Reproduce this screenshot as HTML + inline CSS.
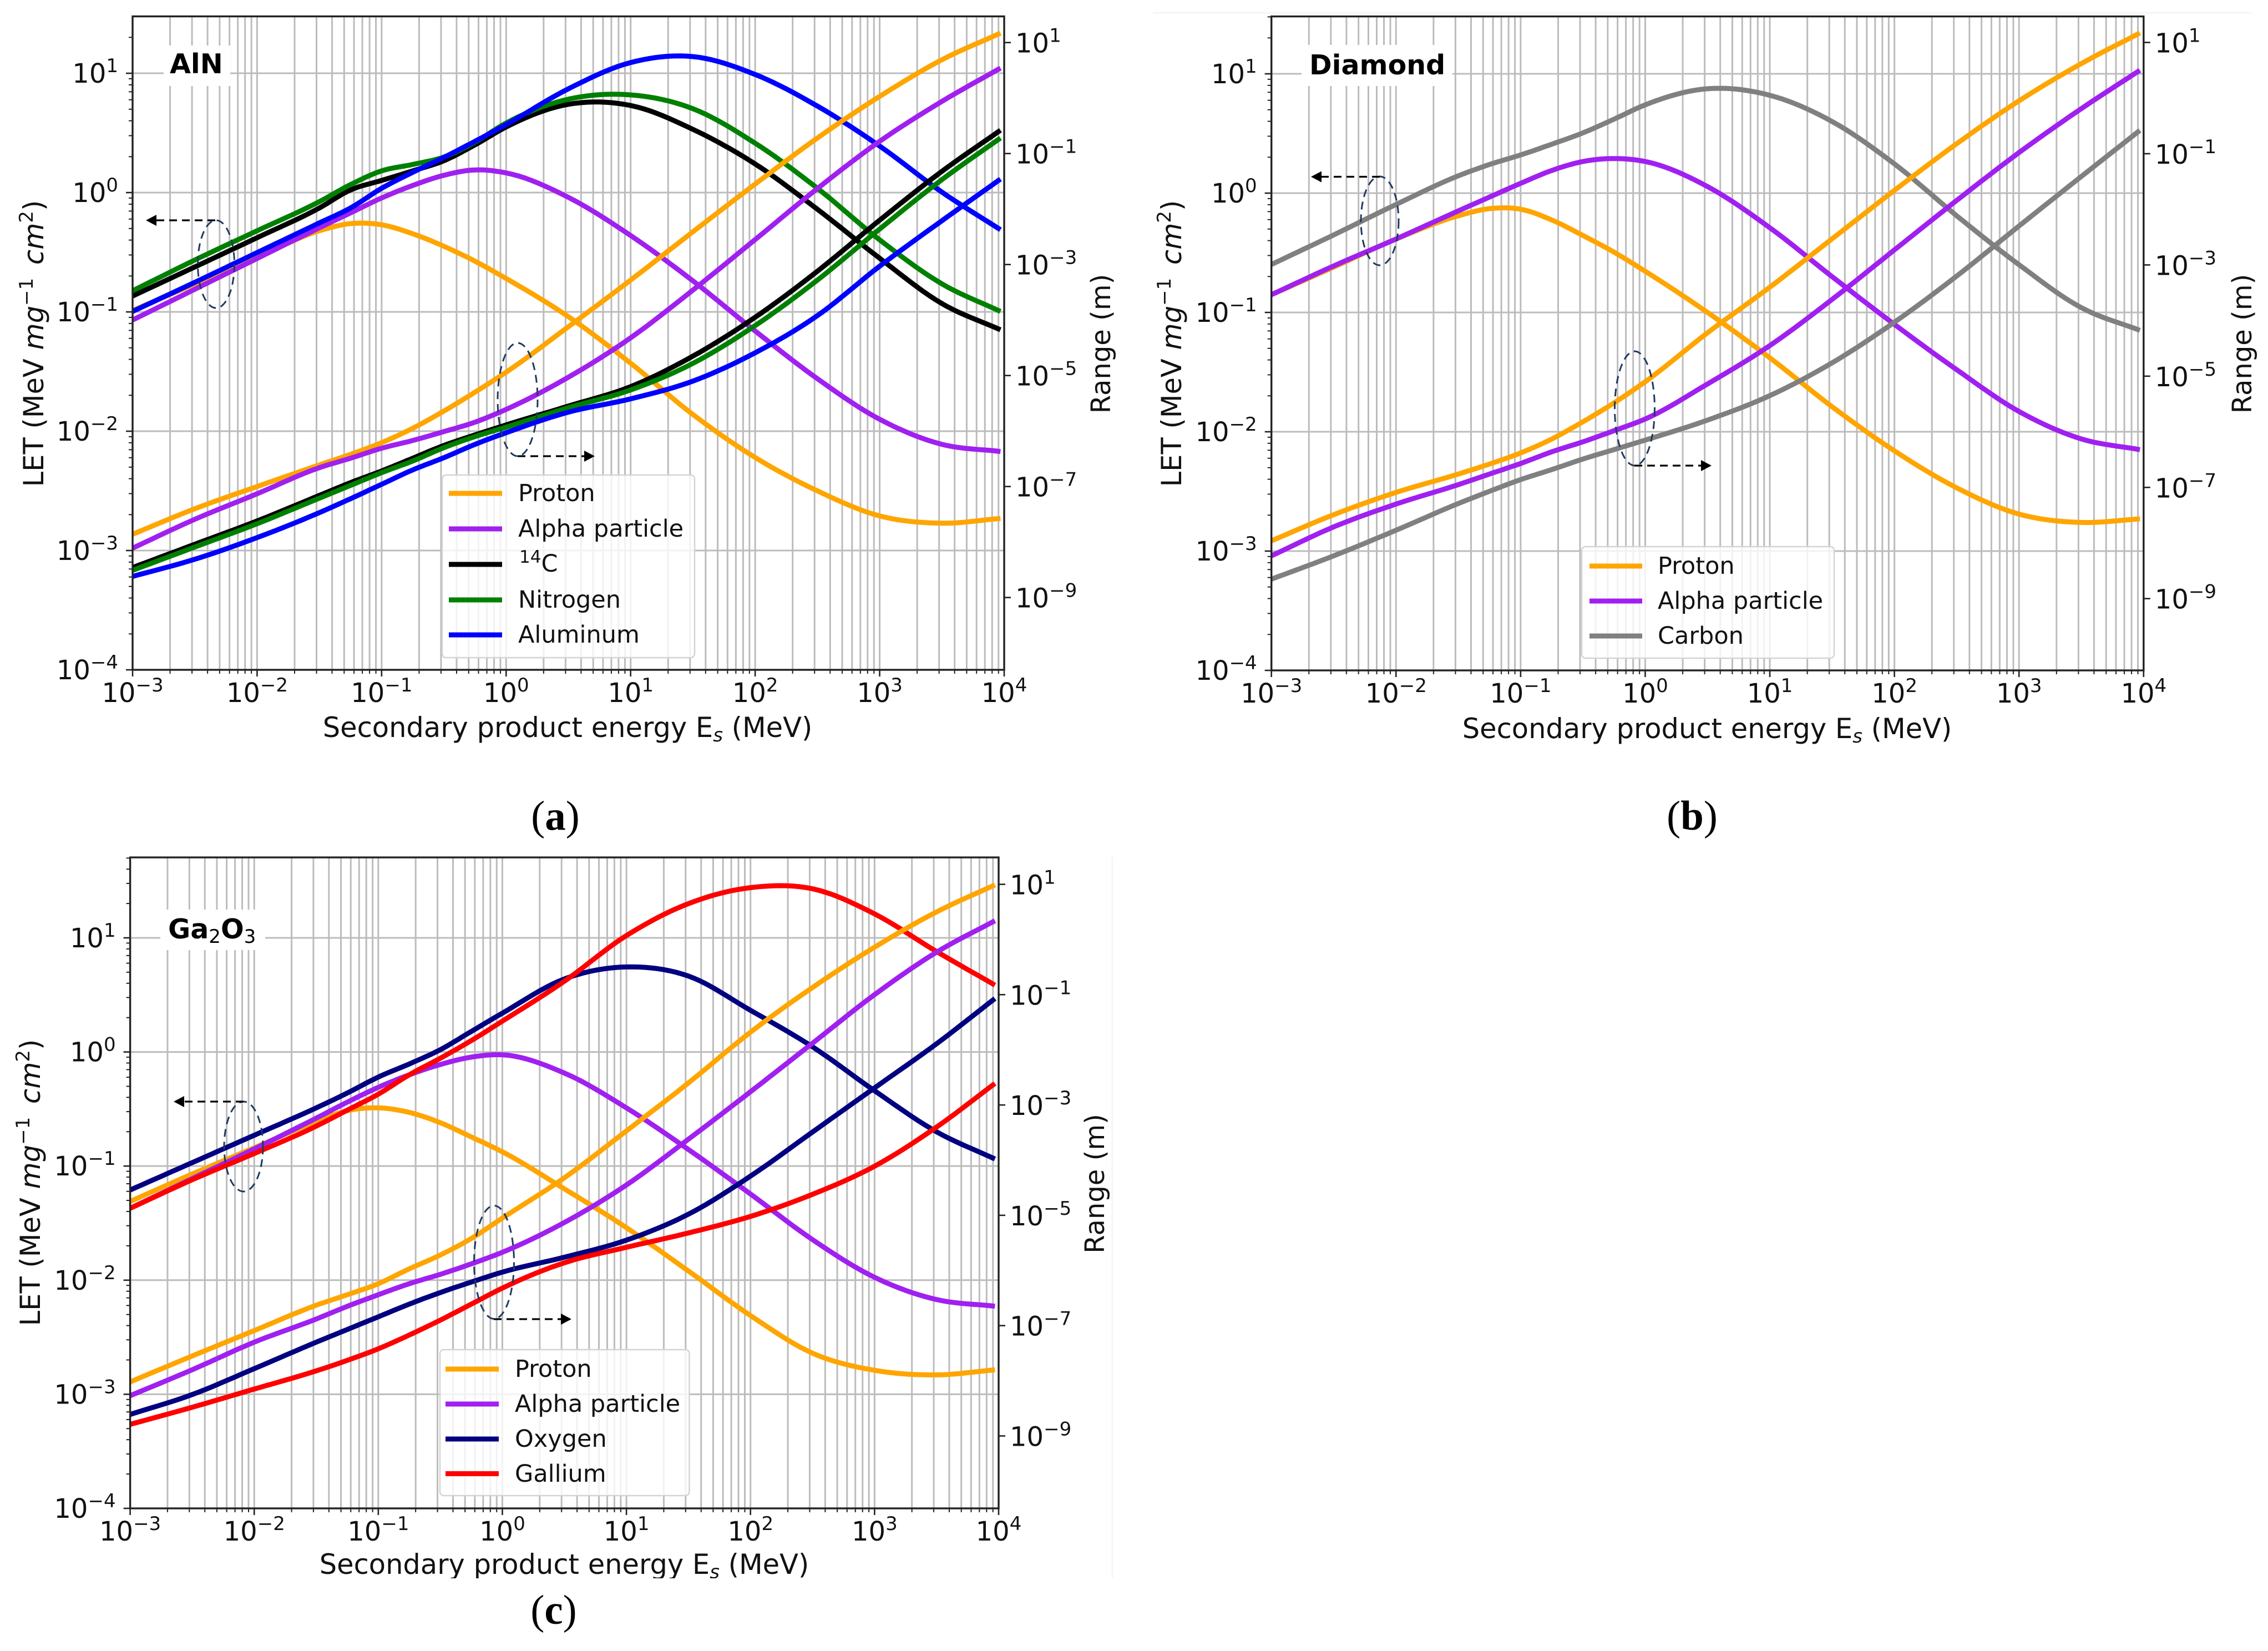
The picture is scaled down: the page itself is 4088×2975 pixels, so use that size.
<!DOCTYPE html>
<html lang="en">
<head>
<meta charset="utf-8">
<title>LET and range of secondary products in AlN, Diamond and Ga2O3</title>
<style>
html,body{margin:0;padding:0;background:#fff;}
svg{display:block;font-family:"DejaVu Sans","Liberation Sans",sans-serif;fill:#111;}
.tick{font-size:48px;}
.title{font-size:49.5px;}
.rtitle{font-size:48px;}
.leg{font-size:43px;}
.mat{font-size:49px;font-weight:bold;fill:#000;}
.cap{font-family:"Liberation Serif",serif;font-size:75px;fill:#000;}
.cap-b{font-weight:bold;}
.ell{fill:none;stroke:#1f3a5f;stroke-width:3;stroke-dasharray:14 9;}
.arr{stroke:#000;stroke-width:3.2;stroke-dasharray:14 9;fill:none;}
</style>
</head>
<body>
<svg id="figure" xmlns="http://www.w3.org/2000/svg" width="4088" height="2975" viewBox="0 0 4088 2975">
  <rect x="0" y="0" width="4088" height="2975" fill="#fff"/>
  <line x1="2078" y1="23" x2="4060" y2="23" stroke="#f6f6f6" stroke-width="3"/>
  <line x1="2005" y1="1543" x2="2005" y2="2844" stroke="#f6f6f6" stroke-width="3"/>

  <!-- PANEL A -->
  <g id="panel-a">
    <g id="grid-a"></g>
    <rect x="295" y="82" width="120" height="73" fill="#fff"/>
    <g id="curves-a"></g>
    <g id="axes-a"></g>
    <text class="mat" x="306" y="132">AlN</text>
    <ellipse class="ell" cx="389.5" cy="476" rx="33" ry="79"/>
    <line class="arr" x1="388" y1="397" x2="280" y2="397"/>
    <polygon points="263,397 282,387 282,407" fill="#000"/>
    <ellipse class="ell" cx="933" cy="720" rx="36" ry="102"/>
    <line class="arr" x1="933" y1="822" x2="1055" y2="822"/>
    <polygon points="1072,822 1053,812 1053,832" fill="#000"/>
    <text class="title" x="1023" y="1328" text-anchor="middle">Secondary product energy E<tspan font-style="italic" font-size="34" dy="8">s</tspan><tspan dy="-8"> (MeV)</tspan></text>
    <text class="title" transform="translate(78 619) rotate(-90)" text-anchor="middle">LET (MeV <tspan font-style="italic">mg</tspan><tspan font-size="34" dy="-19">−1</tspan><tspan font-style="italic" dy="19" dx="8"> cm</tspan><tspan font-size="34" dy="-19">2</tspan><tspan dy="19">)</tspan></text>
    <text class="rtitle" transform="translate(2001 619.5) rotate(-90)" text-anchor="middle">Range (m)</text>
    <g>
      <rect x="797" y="856" width="455" height="329" rx="7" fill="#fff" fill-opacity=".8" stroke="#d4d4d4" stroke-width="2.5"/>
      <line x1="809" x2="905" y1="889" y2="889" stroke="#ffa500" stroke-width="9"/>
      <text class="leg" x="934" y="903">Proton</text>
      <line x1="809" x2="905" y1="953" y2="953" stroke="#a020f0" stroke-width="9"/>
      <text class="leg" x="934" y="967">Alpha particle</text>
      <line x1="809" x2="905" y1="1017" y2="1017" stroke="#000" stroke-width="9"/>
      <text class="leg" x="936" y="1030"><tspan font-size="31" dy="-16">14</tspan><tspan dy="16">C</tspan></text>
      <line x1="809" x2="905" y1="1081" y2="1081" stroke="#008000" stroke-width="9"/>
      <text class="leg" x="934" y="1095">Nitrogen</text>
      <line x1="809" x2="905" y1="1144" y2="1144" stroke="#0000ff" stroke-width="9"/>
      <text class="leg" x="934" y="1158">Aluminum</text>
    </g>
    <text class="cap" x="1001" y="1495" text-anchor="middle">(<tspan class="cap-b">a</tspan>)</text>
  </g>

  <!-- PANEL B -->
  <g id="panel-b">
    <g id="grid-b"></g>
    <rect x="2346" y="81" width="272" height="74" fill="#fff"/>
    <g id="curves-b"></g>
    <g id="axes-b"></g>
    <text class="mat" x="2360" y="134">Diamond</text>
    <ellipse class="ell" cx="2487" cy="398" rx="34" ry="80"/>
    <line class="arr" x1="2487" y1="318.5" x2="2380" y2="318.5"/>
    <polygon points="2363,318.5 2382,308.5 2382,328.5" fill="#000"/>
    <ellipse class="ell" cx="2946.5" cy="736" rx="36" ry="103"/>
    <line class="arr" x1="2946" y1="839" x2="3068" y2="839"/>
    <polygon points="3085,839 3066,829 3066,849" fill="#000"/>
    <text class="title" x="3077" y="1330" text-anchor="middle">Secondary product energy E<tspan font-style="italic" font-size="34" dy="8">s</tspan><tspan dy="-8"> (MeV)</tspan></text>
    <text class="title" transform="translate(2129 619) rotate(-90)" text-anchor="middle">LET (MeV <tspan font-style="italic">mg</tspan><tspan font-size="34" dy="-19">−1</tspan><tspan font-style="italic" dy="19" dx="8"> cm</tspan><tspan font-size="34" dy="-19">2</tspan><tspan dy="19">)</tspan></text>
    <text class="rtitle" transform="translate(4058 619.5) rotate(-90)" text-anchor="middle">Range (m)</text>
    <g>
      <rect x="2851" y="985" width="455" height="201" rx="7" fill="#fff" fill-opacity=".8" stroke="#d4d4d4" stroke-width="2.5"/>
      <line x1="2865" x2="2960" y1="1020" y2="1020" stroke="#ffa500" stroke-width="9"/>
      <text class="leg" x="2988" y="1034">Proton</text>
      <line x1="2865" x2="2960" y1="1083" y2="1083" stroke="#a020f0" stroke-width="9"/>
      <text class="leg" x="2988" y="1097">Alpha particle</text>
      <line x1="2865" x2="2960" y1="1146" y2="1146" stroke="#808080" stroke-width="9"/>
      <text class="leg" x="2988" y="1160">Carbon</text>
    </g>
    <text class="cap" x="3050" y="1495" text-anchor="middle">(<tspan class="cap-b">b</tspan>)</text>
  </g>

  <!-- PANEL C -->
  <g id="panel-c">
    <g id="grid-c"></g>
    <rect x="289" y="1639" width="189" height="73" fill="#fff"/>
    <g id="curves-c"></g>
    <g id="axes-c"></g>
    <text class="mat" x="303" y="1691">Ga<tspan font-size="34" font-weight="normal" dy="8">2</tspan><tspan dy="-8">O</tspan><tspan font-size="34" font-weight="normal" dy="8">3</tspan></text>
    <ellipse class="ell" cx="439" cy="2066" rx="35" ry="81"/>
    <line class="arr" x1="439" y1="1985" x2="330" y2="1985"/>
    <polygon points="313,1985 332,1975 332,1995" fill="#000"/>
    <ellipse class="ell" cx="890.5" cy="2274.5" rx="36" ry="102"/>
    <line class="arr" x1="890" y1="2377" x2="1013" y2="2377"/>
    <polygon points="1030,2377 1011,2367 1011,2387" fill="#000"/>
    <text class="title" x="1017" y="2836" text-anchor="middle">Secondary product energy E<tspan font-style="italic" font-size="34" dy="8">s</tspan><tspan dy="-8"> (MeV)</tspan></text>
    <rect x="500" y="2844" width="1100" height="26" fill="#fff"/>
    <text class="title" transform="translate(72 2131) rotate(-90)" text-anchor="middle">LET (MeV <tspan font-style="italic">mg</tspan><tspan font-size="34" dy="-19">−1</tspan><tspan font-style="italic" dy="19" dx="8"> cm</tspan><tspan font-size="34" dy="-19">2</tspan><tspan dy="19">)</tspan></text>
    <text class="rtitle" transform="translate(1990 2133) rotate(-90)" text-anchor="middle">Range (m)</text>
    <g>
      <rect x="793" y="2432" width="449.5" height="263" rx="7" fill="#fff" fill-opacity=".8" stroke="#d4d4d4" stroke-width="2.5"/>
      <line x1="803" x2="899" y1="2467" y2="2467" stroke="#ffa500" stroke-width="9"/>
      <text class="leg" x="928" y="2481">Proton</text>
      <line x1="803" x2="899" y1="2530" y2="2530" stroke="#a020f0" stroke-width="9"/>
      <text class="leg" x="928" y="2544">Alpha particle</text>
      <line x1="803" x2="899" y1="2593" y2="2593" stroke="#000080" stroke-width="9"/>
      <text class="leg" x="928" y="2607">Oxygen</text>
      <line x1="803" x2="899" y1="2655.5" y2="2655.5" stroke="#ff0000" stroke-width="9"/>
      <text class="leg" x="928" y="2670">Gallium</text>
    </g>
    <text class="cap" x="998" y="2926" text-anchor="middle">(<tspan class="cap-b">c</tspan>)</text>
  </g>
</svg>

<script>
// Shared x samples: log10 of secondary product energy (MeV)
const energyLog = [-3,-2.5,-2,-1.5,-1.25,-1,-0.75,-0.5,-0.25,0,0.5,1,1.5,2,2.5,3,3.5,3.97];

// Tick labels (decade exponents)
const xTickExps = [-3,-2,-1,0,1,2,3,4];
const letTickExps = [1,0,-1,-2,-3,-4];
const rangeTickExps = [1,-1,-3,-5,-7,-9];
const minorSubs = [2,3,4,5,6,7,8,9];

// Panel (a) AlN: log10 LET
const alnProtonLet = [-0.988,-0.765,-0.543,-0.32,-0.26,-0.27,-0.345,-0.45,-0.575,-0.72,-1.04,-1.43,-1.86,-2.22,-2.5,-2.71,-2.771,-2.731];
const alnAlphaLet = [-1.068,-0.81,-0.552,-0.295,-0.17,-0.045,0.06,0.145,0.19,0.165,-0.04,-0.36,-0.74,-1.16,-1.56,-1.90,-2.11,-2.17];
const alnC14Let = [-0.867,-0.623,-0.378,-0.129,0.022,0.102,0.182,0.267,0.40,0.55,0.74,0.73,0.53,0.24,-0.14,-0.55,-0.93,-1.15];
const alnNitrogenLet = [-0.823,-0.565,-0.32,-0.076,0.067,0.182,0.236,0.298,0.423,0.583,0.783,0.819,0.703,0.414,0.036,-0.396,-0.765,-0.996];
const alnAluminumLet = [-0.996,-0.752,-0.503,-0.254,-0.129,0.036,0.17,0.295,0.43,0.57,0.87,1.09,1.14,0.99,0.725,0.39,0.004,-0.311];
// Panel (a) AlN: log10 range
const alnProtonRange = [-7.86,-7.40,-7.00,-6.61,-6.42,-6.21,-5.95,-5.64,-5.30,-4.94,-4.12,-3.28,-2.41,-1.55,-0.72,0.03,0.69,1.17];
const alnAlphaRange = [-8.11,-7.59,-7.13,-6.66,-6.49,-6.31,-6.17,-6.01,-5.84,-5.61,-5.03,-4.32,-3.46,-2.55,-1.63,-0.78,-0.06,0.54];
const alnC14Range = [-8.46,-8.04,-7.62,-7.16,-6.93,-6.72,-6.49,-6.26,-6.07,-5.89,-5.55,-5.2,-4.65,-3.95,-3.12,-2.2,-1.32,-0.58];
const alnNitrogenRange = [-8.51,-8.09,-7.67,-7.21,-6.98,-6.75,-6.54,-6.30,-6.10,-5.93,-5.58,-5.26,-4.78,-4.10,-3.28,-2.36,-1.47,-0.72];
const alnAluminumRange = [-8.62,-8.31,-7.92,-7.47,-7.22,-6.96,-6.70,-6.48,-6.24,-6.03,-5.66,-5.42,-5.10,-4.59,-3.92,-3.03,-2.21,-1.46];

// Panel (b) Diamond: log10 LET
const diaProtonLet = [-0.851,-0.62,-0.385,-0.19,-0.13,-0.135,-0.225,-0.355,-0.495,-0.655,-1.00,-1.38,-1.79,-2.16,-2.47,-2.69,-2.76,-2.73];
const diaAlphaLet = [-0.851,-0.61,-0.384,-0.149,-0.033,0.082,0.19,0.265,0.29,0.265,0.055,-0.29,-0.70,-1.10,-1.48,-1.83,-2.06,-2.15];
const diaCarbonLet = [-0.598,-0.35,-0.095,0.145,0.24,0.32,0.41,0.505,0.62,0.74,0.875,0.82,0.60,0.245,-0.19,-0.60,-0.96,-1.15];
// Panel (b) Diamond: log10 range
const diaProtonRange = [-7.96,-7.49,-7.09,-6.76,-6.58,-6.38,-6.13,-5.82,-5.48,-5.10,-4.22,-3.40,-2.53,-1.66,-0.82,-0.05,0.62,1.17];
const diaAlphaRange = [-8.23,-7.71,-7.30,-6.95,-6.76,-6.57,-6.36,-6.18,-5.98,-5.77,-5.14,-4.45,-3.62,-2.73,-1.84,-0.98,-0.19,0.50];
const diaCarbonRange = [-8.65,-8.23,-7.77,-7.29,-7.07,-6.86,-6.68,-6.49,-6.32,-6.15,-5.79,-5.35,-4.76,-4.03,-3.20,-2.30,-1.41,-0.58];

// Panel (c) Ga2O3: log10 LET
const gaoProtonLet = [-1.31,-1.07,-0.84,-0.61,-0.515,-0.49,-0.53,-0.62,-0.745,-0.875,-1.20,-1.54,-1.92,-2.31,-2.64,-2.79,-2.83,-2.786];
const gaoAlphaLet = [-1.37,-1.11,-0.85,-0.58,-0.44,-0.31,-0.20,-0.11,-0.045,-0.025,-0.185,-0.49,-0.855,-1.245,-1.645,-1.975,-2.17,-2.228];
const gaoOxygenLet = [-1.21,-0.97,-0.73,-0.49,-0.36,-0.22,-0.105,0.02,0.18,0.34,0.64,0.745,0.665,0.365,0.045,-0.34,-0.70,-0.938];
const gaoGalliumLet = [-1.37,-1.12,-0.89,-0.65,-0.51,-0.37,-0.20,-0.055,0.10,0.27,0.62,1.02,1.30,1.44,1.43,1.21,0.88,0.586];
// Panel (c) Ga2O3: log10 range
const gaoProtonRange = [-8.02,-7.55,-7.09,-6.63,-6.44,-6.24,-5.97,-5.72,-5.42,-5.05,-4.32,-3.47,-2.60,-1.68,-0.87,-0.14,0.50,0.99];
const gaoAlphaRange = [-8.27,-7.80,-7.30,-6.88,-6.65,-6.44,-6.24,-6.07,-5.88,-5.67,-5.13,-4.45,-3.62,-2.76,-1.88,-1.00,-0.23,0.34];
const gaoOxygenRange = [-8.61,-8.25,-7.78,-7.30,-7.07,-6.84,-6.61,-6.40,-6.21,-6.03,-5.76,-5.45,-4.98,-4.29,-3.49,-2.69,-1.89,-1.07];
const gaoGalliumRange = [-8.79,-8.48,-8.15,-7.82,-7.63,-7.42,-7.17,-6.90,-6.61,-6.32,-5.86,-5.58,-5.32,-5.02,-4.62,-4.11,-3.40,-2.61];

const SVGNS = 'http://www.w3.org/2000/svg';
function mk(tag, attrs, parent) {
  const n = document.createElementNS(SVGNS, tag);
  for (const k in attrs) n.setAttribute(k, attrs[k]);
  parent.appendChild(n);
  return n;
}

// Cubic Hermite interpolation through the read values
function smooth(xs, ys, steps) {
  const n = xs.length, m = [], out = [];
  for (let i = 0; i < n; i++) {
    if (i === 0) m[i] = (ys[1] - ys[0]) / (xs[1] - xs[0]);
    else if (i === n - 1) m[i] = (ys[n-1] - ys[n-2]) / (xs[n-1] - xs[n-2]);
    else {
      const h0 = xs[i] - xs[i-1], h1 = xs[i+1] - xs[i];
      const d0 = (ys[i] - ys[i-1]) / h0, d1 = (ys[i+1] - ys[i]) / h1;
      m[i] = (d0 * h1 + d1 * h0) / (h0 + h1);
    }
  }
  for (let i = 0; i < n - 1; i++) {
    const h = xs[i+1] - xs[i];
    for (let s = 0; s < steps; s++) {
      const t = s / steps, t2 = t*t, t3 = t2*t;
      out.push([xs[i] + t*h,
        (2*t3-3*t2+1)*ys[i] + (t3-2*t2+t)*h*m[i] + (-2*t3+3*t2)*ys[i+1] + (t3-t2)*h*m[i+1]]);
    }
  }
  out.push([xs[n-1], ys[n-1]]);
  return out;
}

function superLabel(textEl, exp, supDy) {
  const base = mk('tspan', {}, textEl);
  base.textContent = '10';
  const sup = mk('tspan', {'font-size': 34, dy: supDy}, textEl);
  sup.textContent = String(exp).replace('-', '\u2212');
}

function drawPanel(p) {
  const gridG = document.getElementById('grid-' + p.id);
  const curveG = document.getElementById('curves-' + p.id);
  const axisG = document.getElementById('axes-' + p.id);
  const xAxis = v => p.left + (v + 3) / 7 * (p.right - p.left);
  const letAxis = v => p.bottom - (v + 4) / (p.letTop + 4) * (p.bottom - p.top);
  const rangeAxis = v => p.bottom - (v - p.rangeBottom) / (p.rangeTop - p.rangeBottom) * (p.bottom - p.top);
  const gridStyle = {stroke: '#bcbcbc', 'stroke-width': 3};

  // vertical grid and x ticks
  xTickExps.forEach(function (e) {
    const px = xAxis(e);
    const g = mk('line', Object.assign({x1: px, x2: px, y1: p.top, y2: p.bottom}, gridStyle), gridG);
    
    
    const t = mk('line', {x1: px, x2: px, y1: p.bottom, y2: p.bottom + 12, stroke: '#222', 'stroke-width': 2.6}, axisG);
    
    
    const lbl = mk('text', {class: 'tick', x: px, y: p.bottom + 58, 'text-anchor': 'middle'}, axisG);
    
    
    superLabel(lbl, e, -19);
    if (e < 4) minorSubs.forEach(function (s) {
      const mx = xAxis(e + Math.log10(s));
      const mg = mk('line', Object.assign({x1: mx, x2: mx, y1: p.top, y2: p.bottom}, gridStyle), gridG);
      
      
      const mt = mk('line', {x1: mx, x2: mx, y1: p.bottom, y2: p.bottom + 7, stroke: '#222', 'stroke-width': 2}, axisG);
      
      
    });
  });

  // left axis: horizontal grid, ticks, labels
  letTickExps.forEach(function (e) {
    const py = letAxis(e);
    const g = mk('line', Object.assign({x1: p.left, x2: p.right, y1: py, y2: py}, gridStyle), gridG);
    
    
    const t = mk('line', {x1: p.left - 12, x2: p.left, y1: py, y2: py, stroke: '#222', 'stroke-width': 2.6}, axisG);
    
    
    const lbl = mk('text', {class: 'tick', x: p.left - 26, y: py + 17, 'text-anchor': 'end'}, axisG);
    
    
    superLabel(lbl, e, -19);
    minorSubs.forEach(function (s) {
      const v = e + Math.log10(s);
      if (v > p.letTop) return;
      const my = letAxis(v);
      const mt = mk('line', {x1: p.left - 7, x2: p.left, y1: my, y2: my, stroke: '#222', 'stroke-width': 2}, axisG);
      
      
    });
  });

  // right axis: ticks, labels
  rangeTickExps.forEach(function (e) {
    const py = rangeAxis(e);
    const t = mk('line', {x1: p.right, x2: p.right + 12, y1: py, y2: py, stroke: '#222', 'stroke-width': 2.6}, axisG);
    
    
    const lbl = mk('text', {class: 'tick', x: p.right + 20, y: py + 18}, axisG);
    
    
    superLabel(lbl, e, -19);
  });

  // curves: LET family first, range family on top
  function drawCurve(c, values, axis, kind) {
    const pts = smooth(energyLog, values, 10);
    const d = pts.map((q, i) => (i ? 'L' : 'M') + xAxis(q[0]).toFixed(1) + ' ' + axis(q[1]).toFixed(1)).join('');
    const path = mk('path', {d: d, fill: 'none', stroke: c.color, 'stroke-width': 9, 'stroke-linejoin': 'round'}, curveG);
    
    
  }
  p.series.forEach(c => drawCurve(c, c.let, letAxis, 'let'));
  p.series.forEach(c => drawCurve(c, c.range, rangeAxis, 'range'));

  // spines
  const frame = mk('rect', {x: p.left, y: p.top, width: p.right - p.left, height: p.bottom - p.top, fill: 'none', stroke: '#222', 'stroke-width': 3.4}, axisG);
  
  
}

drawPanel({id: 'a', left: 239, right: 1810, top: 29.5, bottom: 1207, letTop: 1.477, rangeTop: 1.472, rangeBottom: -10.303,
  series: [
    {key: 'proton', color: '#ffa500', let: alnProtonLet, range: alnProtonRange},
    {key: 'alpha', color: '#a020f0', let: alnAlphaLet, range: alnAlphaRange},
    {key: 'c14', color: '#000000', let: alnC14Let, range: alnC14Range},
    {key: 'nitrogen', color: '#008000', let: alnNitrogenLet, range: alnNitrogenRange},
    {key: 'aluminum', color: '#0000ff', let: alnAluminumLet, range: alnAluminumRange}
  ]});
drawPanel({id: 'b', left: 2291.7, right: 3863.8, top: 29.6, bottom: 1208, letTop: 1.481, rangeTop: 1.468, rangeBottom: -10.29,
  series: [
    {key: 'proton', color: '#ffa500', let: diaProtonLet, range: diaProtonRange},
    {key: 'alpha', color: '#a020f0', let: diaAlphaLet, range: diaAlphaRange},
    {key: 'carbon', color: '#808080', let: diaCarbonLet, range: diaCarbonRange}
  ]});
drawPanel({id: 'c', left: 234.6, right: 1800, top: 1545, bottom: 2718, letTop: 1.705, rangeTop: 1.488, rangeBottom: -10.313,
  series: [
    {key: 'proton', color: '#ffa500', let: gaoProtonLet, range: gaoProtonRange},
    {key: 'alpha', color: '#a020f0', let: gaoAlphaLet, range: gaoAlphaRange},
    {key: 'oxygen', color: '#000080', let: gaoOxygenLet, range: gaoOxygenRange},
    {key: 'gallium', color: '#ff0000', let: gaoGalliumLet, range: gaoGalliumRange}
  ]});
</script>
</body>
</html>
